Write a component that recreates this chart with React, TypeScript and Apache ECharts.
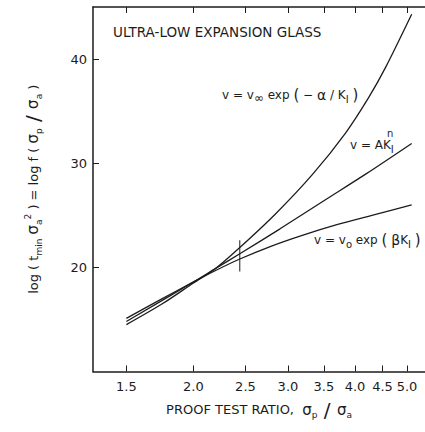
import React, { useEffect, useRef } from 'react';
import * as echarts from 'echarts';

// Tick values
const xTicks = [1.5, 2.0, 2.5, 3.0, 3.5, 4.0, 4.5, 5.0];
const yTicks = [20, 30, 40];

// Curve: v = v_inf exp(-alpha/K_I)
const vInfX = [1.5, 1.75, 2.0, 2.2, 2.44, 2.84, 3.33, 3.84, 4.24, 4.56, 5.1];
const vInfY = [14.5, 16.5, 18.5, 19.9, 21.9, 25.1, 28.9, 32.9, 36.3, 39.2, 44.3];

// Curve: v = A K_I^n
const powX = [1.5, 2.0, 2.2, 2.44, 2.9, 3.5, 4.2, 5.1];
const powY = [14.8, 18.6, 19.9, 21.3, 23.7, 26.4, 29.0, 31.9];

// Curve: v = v0 exp(beta K_I)
const v0X = [1.5, 1.75, 2.0, 2.2, 2.44, 2.78, 3.2, 3.7, 4.3, 5.1];
const v0Y = [15.1, 17.0, 18.6, 19.7, 20.8, 22.0, 23.1, 24.1, 25.0, 26.0];

// Vertical marker
const markX = [2.44, 2.44];
const markY = [19.6, 22.6];

const X_MIN = 1.3;
const X_MAX = 5.4;
const Y_MIN = 10;
const Y_MAX = 45;

const lg = (v: number) => Math.log10(v);
const pairs = (xs: number[], ys: number[]) => xs.map((x, i) => [lg(x), ys[i]]);

export default function App() {
  const ref = useRef<HTMLDivElement>(null);
  useEffect(() => {
    document.body.style.margin = '0';
    const chart = echarts.init(ref.current!, null, { renderer: 'svg' });
    const ink = '#1c1c1c';
    const ff = 'DejaVu Sans, Liberation Sans, sans-serif';
    const rich: any = {
      t: { fontSize: 13, fontFamily: ff, color: ink, lineHeight: 20 },
      g: { fontSize: 15, fontFamily: ff, color: ink, lineHeight: 20 },
      big: { fontSize: 20, fontFamily: ff, color: ink, lineHeight: 20 },
      sub: { fontSize: 9, fontFamily: ff, color: ink, lineHeight: 9, verticalAlign: 'bottom' },
      sup: { fontSize: 9, fontFamily: ff, color: ink, lineHeight: 9, verticalAlign: 'top' },
    };
    const grich: any = {
      sub: { fontSize: 10, fontFamily: ff, fill: ink, lineHeight: 10, verticalAlign: 'bottom' },
      inf: { fontSize: 12, fontFamily: ff, fill: ink, lineHeight: 11, verticalAlign: 'bottom' },
      g: { fontSize: 14, fontFamily: ff, fill: ink, lineHeight: 18 },
      p: { fontSize: 15, fontFamily: ff, fill: ink, lineHeight: 18 },
    };
    const lineSeries = (name: string, xs: number[], ys: number[]) => ({
      name,
      type: 'line',
      data: pairs(xs, ys),
      smooth: 0.3,
      showSymbol: false,
      symbol: 'none',
      lineStyle: { color: ink, width: 1.3 },
      xAxisIndex: 0,
      yAxisIndex: 0,
    });
    chart.setOption({
      animation: false,
      backgroundColor: '#ffffff',
      grid: { left: 93, top: 7, width: 332, height: 364.5, containLabel: false },
      xAxis: [
        {
          type: 'value',
          position: 'bottom',
          min: lg(X_MIN),
          max: lg(X_MAX),
          axisLine: { show: true, onZero: false, lineStyle: { color: ink, width: 1.5 } },
          axisTick: { show: true, inside: true, length: 6, customValues: xTicks.map(lg), lineStyle: { color: ink, width: 1 } },
          axisLabel: {
            show: true,
            customValues: xTicks.map(lg),
            formatter: (v: number) => Math.pow(10, v).toFixed(1),
            color: ink,
            fontSize: 13,
            fontFamily: ff,
            margin: 8,
          },
          splitLine: { show: false },
          name: '{t|PROOF TEST RATIO,  }{g|σ}{sub|p}{big| / }{g|σ}{sub|a}',
          nameLocation: 'middle',
          nameGap: 28,
          nameTextStyle: { rich, color: ink, fontFamily: ff },
        },
        {
          type: 'value',
          position: 'top',
          min: lg(X_MIN),
          max: lg(X_MAX),
          axisLine: { show: true, onZero: false, lineStyle: { color: ink, width: 1.5 } },
          axisTick: { show: true, inside: true, length: 6, customValues: xTicks.map(lg), lineStyle: { color: ink, width: 1 } },
          axisLabel: { show: false },
          splitLine: { show: false },
        },
      ],
      yAxis: {
        type: 'value',
        min: Y_MIN,
        max: Y_MAX,
        interval: 10,
        axisLine: { show: true, onZero: false, lineStyle: { color: ink, width: 1.5 } },
        axisTick: { show: true, inside: true, length: 6, customValues: yTicks, lineStyle: { color: ink, width: 1 } },
        axisLabel: { show: true, customValues: yTicks, color: ink, fontSize: 13, fontFamily: ff, margin: 6 },
        splitLine: { show: false },
        name: '{t|log ( t}{sub|min}{t| }{g|σ}{sub|a}{sup|2}{t| ) = log f ( }{g|σ}{sub|p}{big| / }{g|σ}{sub|a}{t| )}',
        nameLocation: 'middle',
        nameRotate: 90,
        nameGap: 50,
        nameTextStyle: { rich, color: ink, fontFamily: ff },
      },
      series: [
        lineSeries('v = v∞ exp(−α/K_I)', vInfX, vInfY),
        lineSeries('v = A K_I^n', powX, powY),
        lineSeries('v = v0 exp(βK_I)', v0X, v0Y),
        {
          name: 'marker',
          type: 'line',
          data: pairs(markX, markY),
          showSymbol: false,
          symbol: 'none',
          lineStyle: { color: ink, width: 1 },
        },
      ],
      graphic: [
        {
          type: 'text',
          x: 113,
          y: 32,
          style: { text: 'ULTRA-LOW EXPANSION GLASS', fontSize: 13.5, fontFamily: ff, fill: ink, verticalAlign: 'middle', align: 'left' },
        },
        {
          type: 'text',
          x: 222,
          y: 95,
          style: {
            text: 'v = v{inf|∞} exp {p|(} − {g|α} / K{sub|I} {p|)}',
            fontSize: 12,
            fontFamily: ff,
            fill: ink,
            lineHeight: 18,
            verticalAlign: 'middle',
            align: 'left',
            rich: grich,
          },
        },
        {
          type: 'text',
          x: 350,
          y: 145,
          style: {
            text: 'v = AK{sub|I}',
            fontSize: 12,
            fontFamily: ff,
            fill: ink,
            lineHeight: 18,
            verticalAlign: 'middle',
            align: 'left',
            rich: grich,
          },
        },
        {
          type: 'text',
          x: 387,
          y: 133,
          style: { text: 'n', fontSize: 10, fontFamily: ff, fill: ink, verticalAlign: 'middle', align: 'left' },
        },
        {
          type: 'text',
          x: 314,
          y: 240,
          style: {
            text: 'v = v{sub|o} exp {p|(} {g|β}K{sub|I} {p|)}',
            fontSize: 12,
            fontFamily: ff,
            fill: ink,
            lineHeight: 18,
            verticalAlign: 'middle',
            align: 'left',
            rich: grich,
          },
        },
      ],
    });
    return () => chart.dispose();
  }, []);
  return <div ref={ref} style={{ width: 425, height: 432 }} />;
}
